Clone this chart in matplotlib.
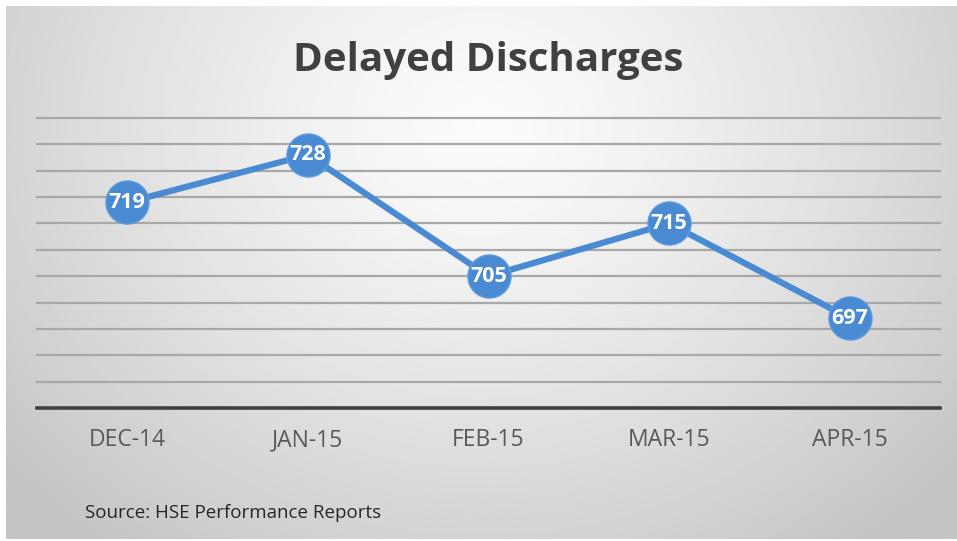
import numpy as np
import matplotlib
matplotlib.use("Agg")
import matplotlib.pyplot as plt

categories = ["DEC-14", "JAN-15", "FEB-15", "MAR-15", "APR-15"]
values = [719, 728, 705, 715, 697]
title = "Delayed Discharges"
source = "Source: HSE Performance Reports"
y_min, y_max, y_step = 680, 735, 5

W, H = 957, 541
fig = plt.figure(figsize=(W / 100, H / 100), dpi=100)
fig.patch.set_facecolor("white")

# gradient background box
bg = fig.add_axes([6 / W, 2 / H, 951 / W, 533 / H])
ny, nx = 300, 540
yy, xx = np.mgrid[0:ny, 0:nx]
u = (xx / (nx - 1) - 0.5) / 0.62
v = (yy / (ny - 1) - 0.22) / 0.95
r = np.sqrt(u ** 2 + v ** 2)
shade = np.clip(0.985 - 0.2 * r ** 1.3, 0.77, 1.0)
bg.imshow(shade, cmap="gray", vmin=0, vmax=1, aspect="auto", extent=[0, 1, 0, 1], interpolation="bilinear")
bg.set_axis_off()

ax = fig.add_axes([37 / W, (H - 408) / H, (940 - 37) / W, (408 - 118) / H])
ax.patch.set_alpha(0)
x = np.arange(len(categories))
ax.set_xlim(-0.5, len(categories) - 0.5)
ax.set_ylim(y_min, y_max)
ax.set_yticks(np.arange(y_min + y_step, y_max + 0.1, y_step))
ax.yaxis.grid(True, color="#a8a8a8", linewidth=1.6)
for gl in ax.get_ygridlines():
    gl.set_clip_on(False)
ax.set_axisbelow(True)
ax.tick_params(axis="y", left=False, labelleft=False)
ax.tick_params(axis="x", bottom=False, labelsize=16.5, labelcolor="#595959", pad=11)
ax.set_xticks(x)
ax.set_xticklabels(categories, family="Open Sans")
for s in ["top", "right", "left"]:
    ax.spines[s].set_visible(False)
ax.spines["bottom"].set_color("#404040")
ax.spines["bottom"].set_linewidth(2.6)

ax.plot(x, values, color="#4a8ad2", linewidth=4.5, marker="o", markersize=31,
        markerfacecolor="#4a8ad2", markeredgecolor="#5b9be0", markeredgewidth=1,
        solid_capstyle="round", clip_on=False, zorder=3)
for xi, val in zip(x, values):
    ax.text(xi, val, str(val), ha="center", va="center", color="white",
            fontsize=15.5, fontweight="bold", family="Open Sans", zorder=4)

fig.text(488 / W, 1 - 61 / H, title, ha="center", va="center", fontsize=29,
         fontweight="bold", color="#404040", family="Open Sans")
fig.text(85 / W, 1 - 513 / H, source, ha="left", va="center", fontsize=13.5,
         color="#262626", family="Open Sans")

fig.savefig("out.png", dpi=100)
